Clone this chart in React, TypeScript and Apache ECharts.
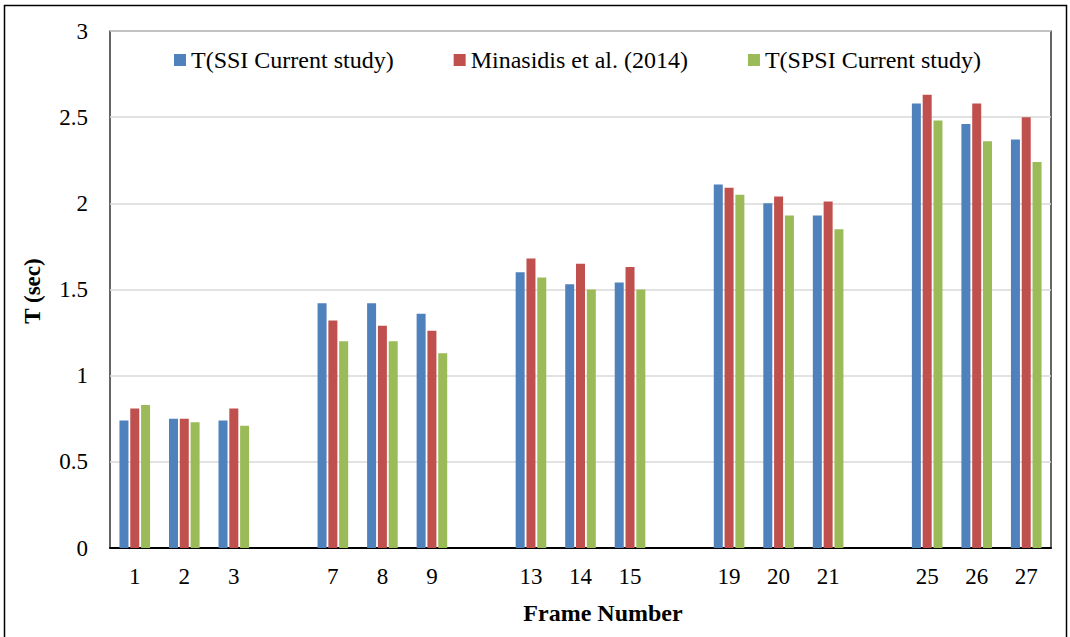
import React, { useEffect, useRef } from "react";
import * as echarts from "echarts";

const frames = ["1", "2", "3", "7", "8", "9", "13", "14", "15", "19", "20", "21", "25", "26", "27"];
const ssiValues = [0.74, 0.75, 0.74, 1.42, 1.42, 1.36, 1.60, 1.53, 1.54, 2.11, 2.00, 1.93, 2.58, 2.46, 2.37];
const minasidisValues = [0.81, 0.75, 0.81, 1.32, 1.29, 1.26, 1.68, 1.65, 1.63, 2.09, 2.04, 2.01, 2.63, 2.58, 2.50];
const spsiValues = [0.83, 0.73, 0.71, 1.20, 1.20, 1.13, 1.57, 1.50, 1.50, 2.05, 1.93, 1.85, 2.48, 2.36, 2.24];
const seriesNames = ["T(SSI Current study)", "Minasidis et al. (2014)", "T(SPSI Current study)"];
const colors = ["#4F81BD", "#C0504D", "#9BBB59"];
const yTicks = [0, 0.5, 1, 1.5, 2, 2.5, 3];

const GROUP = 3;

function withGaps<T>(arr: T[], blank: (i: number) => T): T[] {
  const out: T[] = [];
  arr.forEach((v, i) => {
    out.push(v);
    if ((i + 1) % GROUP === 0 && i < arr.length - 1) out.push(blank(i));
  });
  return out;
}

const FONT = "Liberation Serif";

export default function App() {
  const ref = useRef<HTMLDivElement>(null);
  useEffect(() => {
    if (!ref.current) return;
    const chart = echarts.init(ref.current, undefined, { renderer: "svg" });
    const categories = withGaps(frames, (i) => " ".repeat(Math.floor(i / GROUP) + 1));
    const series = [ssiValues, minasidisValues, spsiValues].map((vals, k) => ({
      name: seriesNames[k],
      type: "bar",
      data: withGaps<number | null>(vals, () => null),
      barWidth: 9,
      barGap: "20%",
      itemStyle: { color: colors[k] },
    }));
    chart.setOption({
      animation: false,
      backgroundColor: "#fff",
      textStyle: { fontFamily: FONT },
      grid: {
        left: 110,
        right: 19,
        top: 31,
        bottom: 89,
        show: true,
        borderColor: "#000",
        borderWidth: 1.2,
        containLabel: false,
      },
      legend: {
        data: seriesNames,
        left: 174,
        top: 48,
        padding: 0,
        itemWidth: 12,
        itemHeight: 12,
        itemGap: 60,
        icon: "rect",
        textStyle: { fontFamily: FONT, fontSize: 24, color: "#000", lineHeight: 24 },
      },
      xAxis: {
        type: "category",
        data: categories,
        axisTick: { show: false },
        axisLine: { lineStyle: { color: "#000", width: 2 } },
        axisLabel: { fontFamily: FONT, fontSize: 23, color: "#000", margin: 17, interval: 0 },
      },
      yAxis: {
        type: "value",
        min: yTicks[0],
        max: yTicks[yTicks.length - 1],
        interval: 0.5,
        axisLine: { show: false },
        axisTick: { show: false },
        splitLine: { lineStyle: { color: "#D9D9D9", width: 1.5 } },
        axisLabel: { fontFamily: FONT, fontSize: 23, color: "#000", margin: 22 },
      },
      graphic: [
        {
          type: "rect",
          shape: { x: 4.5, y: 5.5, width: 1062, height: 640 },
          style: { fill: "none", stroke: "#000", lineWidth: 1.5 },
          silent: true,
        },
        {
          type: "text",
          x: 32,
          y: 291,
          rotation: Math.PI / 2,
          style: {
            text: "T (sec)",
            fontFamily: FONT,
            fontSize: 23,
            fontWeight: "bold",
            fill: "#000",
            align: "center",
            verticalAlign: "middle",
          },
        },
        {
          type: "text",
          x: 603,
          y: 613,
          style: {
            text: "Frame Number",
            fontFamily: FONT,
            fontSize: 24,
            fontWeight: "bold",
            fill: "#000",
            align: "center",
            verticalAlign: "middle",
          },
        },
      ],
      series,
    });
    return () => chart.dispose();
  }, []);
  return (
    <div
      ref={ref}
      style={{ position: "absolute", left: 0, top: 0, width: 1070, height: 637 }}
    />
  );
}
